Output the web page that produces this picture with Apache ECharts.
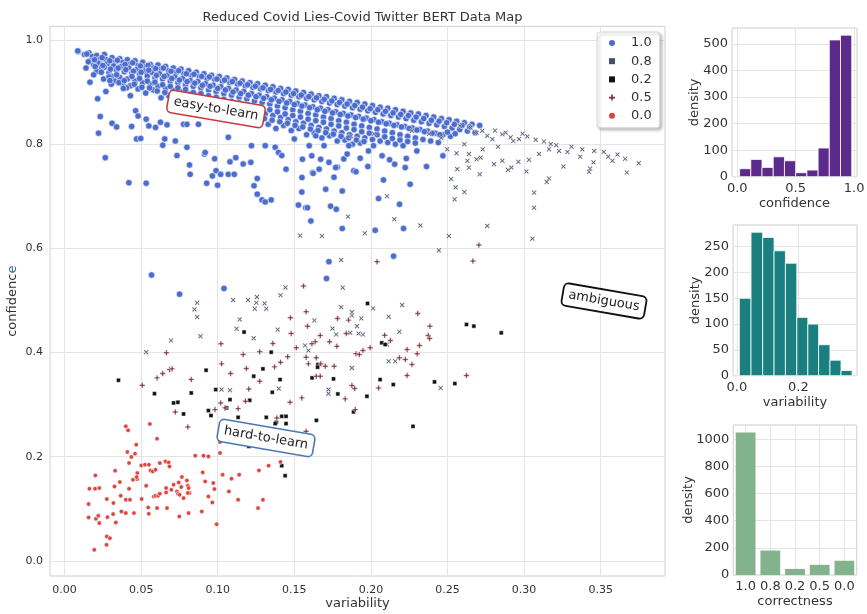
<!DOCTYPE html>
<html>
<head>
<meta charset="utf-8">
<script src="https://cdn.jsdelivr.net/npm/echarts@6/dist/echarts.min.js"></script>
<style>html,body{margin:0;padding:0;background:#fff;}#c{width:867px;height:614px;}</style>
</head>
<body>
<div id="c"></div>
<script>
// ---------- DATA ----------
const legendLabels = ['1.0', '0.8', '0.2', '0.5', '0.0'];

// tick values
const mainXTicks = [0, 0.05, 0.10, 0.15, 0.20, 0.25, 0.30, 0.35];
const mainYTicks = [0, 0.2, 0.4, 0.6, 0.8, 1.0];
const confXTicks = [0, 0.5, 1.0];
const varXTicks = [0, 0.2];

// correctness 1.0 : [variability, confidence]
const pts10 = [
[0.009,0.978],[0.013,0.972],[0.016,0.975],[0.018,0.968],[0.017,0.960],[0.019,0.952],
[0.021,0.970],[0.023,0.963],[0.022,0.955],[0.024,0.946],[0.021,0.940],
[0.026,0.972],[0.027,0.962],[0.028,0.955],[0.026,0.948],[0.029,0.937],
[0.031,0.966],[0.033,0.958],[0.032,0.950],[0.034,0.942],[0.031,0.930],[0.033,0.921],
[0.036,0.964],[0.038,0.957],[0.037,0.949],[0.039,0.939],[0.036,0.928],[0.038,0.915],
[0.041,0.962],[0.043,0.954],[0.042,0.946],[0.044,0.936],[0.041,0.925],[0.043,0.912],
[0.046,0.960],[0.048,0.951],[0.047,0.943],[0.049,0.934],[0.046,0.921],[0.048,0.906],
[0.051,0.957],[0.053,0.949],[0.052,0.940],[0.054,0.931],[0.051,0.918],[0.053,0.898],
[0.056,0.953],[0.058,0.946],[0.057,0.938],[0.059,0.927],[0.056,0.915],[0.058,0.904],
[0.061,0.952],[0.063,0.944],[0.062,0.935],[0.064,0.925],[0.061,0.911],[0.063,0.889],
[0.066,0.949],[0.068,0.941],[0.067,0.932],[0.069,0.921],[0.066,0.907],[0.068,0.893],
[0.071,0.946],[0.073,0.938],[0.072,0.929],[0.074,0.918],[0.071,0.903],[0.073,0.882],
[0.076,0.944],[0.078,0.935],[0.077,0.926],[0.079,0.914],[0.076,0.900],[0.078,0.872],
[0.081,0.941],[0.083,0.932],[0.082,0.922],[0.084,0.911],[0.081,0.896],[0.083,0.880],
[0.086,0.938],[0.088,0.930],[0.087,0.920],[0.089,0.908],[0.086,0.893],[0.088,0.868],
[0.091,0.935],[0.093,0.926],[0.092,0.916],[0.094,0.904],[0.091,0.889],[0.093,0.860],
[0.096,0.932],[0.098,0.924],[0.097,0.913],[0.099,0.901],[0.096,0.884],[0.098,0.870],
[0.101,0.930],[0.103,0.921],[0.102,0.910],[0.104,0.897],[0.101,0.880],[0.103,0.856],
[0.106,0.927],[0.108,0.918],[0.107,0.907],[0.109,0.894],[0.106,0.876],[0.108,0.862],
[0.111,0.924],[0.113,0.915],[0.112,0.904],[0.114,0.890],[0.111,0.873],[0.113,0.850],
[0.116,0.921],[0.118,0.912],[0.117,0.901],[0.119,0.887],[0.116,0.869],[0.118,0.855],
[0.121,0.918],[0.123,0.909],[0.122,0.897],[0.124,0.883],[0.121,0.866],[0.123,0.842],
[0.126,0.916],[0.128,0.906],[0.127,0.894],[0.129,0.880],[0.126,0.862],[0.128,0.848],
[0.131,0.913],[0.133,0.903],[0.132,0.891],[0.134,0.877],[0.131,0.858],[0.133,0.838],
[0.136,0.910],[0.138,0.900],[0.137,0.888],[0.139,0.873],[0.136,0.855],[0.138,0.830],
[0.141,0.907],[0.143,0.897],[0.142,0.885],[0.144,0.870],[0.141,0.851],[0.143,0.836],
[0.146,0.905],[0.148,0.894],[0.147,0.882],[0.149,0.866],[0.146,0.847],[0.148,0.826],
[0.151,0.902],[0.153,0.891],[0.152,0.878],[0.154,0.863],[0.151,0.843],[0.153,0.830],
[0.156,0.899],[0.158,0.888],[0.157,0.875],[0.159,0.859],[0.156,0.840],[0.158,0.818],
[0.161,0.896],[0.163,0.885],[0.162,0.872],[0.164,0.856],[0.161,0.836],[0.163,0.822],
[0.166,0.893],[0.168,0.882],[0.167,0.869],[0.169,0.852],[0.166,0.832],[0.168,0.812],
[0.171,0.891],[0.173,0.879],[0.172,0.866],[0.174,0.849],[0.171,0.829],[0.173,0.816],
[0.176,0.888],[0.178,0.876],[0.177,0.862],[0.179,0.845],[0.176,0.825],[0.178,0.806],
[0.181,0.885],[0.183,0.873],[0.182,0.859],[0.184,0.842],[0.181,0.822],[0.183,0.808],
[0.186,0.882],[0.188,0.870],[0.187,0.856],[0.189,0.838],[0.186,0.818],[0.188,0.800],
[0.191,0.880],[0.193,0.867],[0.192,0.853],[0.194,0.835],[0.191,0.815],[0.193,0.802],
[0.196,0.877],[0.198,0.864],[0.197,0.850],[0.199,0.832],[0.196,0.812],
[0.201,0.874],[0.203,0.861],[0.202,0.847],[0.204,0.829],[0.201,0.809],
[0.206,0.871],[0.208,0.858],[0.207,0.843],[0.209,0.825],[0.206,0.806],
[0.211,0.869],[0.213,0.855],[0.212,0.840],[0.214,0.822],[0.211,0.803],
[0.216,0.866],[0.218,0.852],[0.217,0.837],[0.219,0.818],[0.216,0.800],
[0.221,0.863],[0.223,0.849],[0.222,0.834],[0.224,0.815],[0.221,0.797],
[0.226,0.860],[0.228,0.846],[0.227,0.831],[0.229,0.812],
[0.231,0.858],[0.233,0.843],[0.232,0.828],[0.234,0.809],
[0.236,0.855],[0.238,0.840],[0.237,0.825],[0.239,0.806],
[0.241,0.852],[0.243,0.837],[0.242,0.821],[0.244,0.803],
[0.246,0.849],[0.248,0.834],[0.247,0.818],
[0.251,0.847],[0.253,0.831],[0.252,0.815],
[0.256,0.844],[0.258,0.828],[0.261,0.841],[0.263,0.825],[0.266,0.838],[0.268,0.822],[0.271,0.836],
[0.0145,0.973],[0.0155,0.958],[0.014,0.946],[0.0195,0.962],[0.020,0.949],[0.019,0.933],
[0.0245,0.966],[0.025,0.951],[0.024,0.938],[0.0255,0.925],[0.0295,0.960],[0.030,0.944],[0.029,0.929],[0.0305,0.915],
[0.0345,0.961],[0.035,0.946],[0.034,0.933],[0.0355,0.918],[0.0395,0.953],[0.040,0.943],[0.039,0.922],[0.0405,0.908],
[0.0445,0.956],[0.045,0.940],[0.044,0.930],[0.0455,0.915],[0.0495,0.950],[0.050,0.938],[0.049,0.926],[0.0505,0.909],
[0.0545,0.951],[0.055,0.942],[0.054,0.921],[0.0555,0.908],[0.0595,0.945],[0.060,0.932],[0.059,0.919],[0.0605,0.902],
[0.0645,0.946],[0.065,0.930],[0.064,0.914],[0.0655,0.899],[0.0695,0.940],[0.070,0.926],[0.069,0.911],[0.0705,0.896],
[0.0745,0.941],[0.075,0.923],[0.074,0.908],[0.0755,0.892],[0.0795,0.935],[0.080,0.920],[0.079,0.905],[0.0805,0.888],
[0.0845,0.934],[0.085,0.917],[0.084,0.899],[0.0855,0.884],[0.0895,0.930],[0.090,0.913],[0.089,0.897],[0.0905,0.880],
[0.0945,0.929],[0.095,0.911],[0.094,0.893],[0.0955,0.876],[0.0995,0.925],[0.100,0.907],[0.099,0.890],[0.1005,0.872],
[0.1045,0.923],[0.105,0.904],[0.104,0.886],[0.1055,0.868],[0.1095,0.920],[0.110,0.900],[0.109,0.882],[0.1105,0.866],
[0.1145,0.917],[0.115,0.897],[0.114,0.879],[0.1155,0.861],[0.1195,0.914],[0.120,0.894],[0.119,0.876],[0.1205,0.857],
[0.1245,0.911],[0.125,0.891],[0.124,0.872],[0.1255,0.853],[0.1295,0.908],[0.130,0.888],[0.129,0.869],[0.1305,0.849],
[0.1345,0.905],[0.135,0.885],[0.134,0.866],[0.1355,0.846],[0.1395,0.903],[0.140,0.882],[0.139,0.862],[0.1405,0.843],
[0.1445,0.900],[0.145,0.879],[0.144,0.858],[0.1455,0.840],[0.1495,0.897],[0.150,0.876],[0.149,0.855],[0.1505,0.836],
[0.1545,0.894],[0.155,0.873],[0.154,0.852],[0.1555,0.833],[0.1595,0.891],[0.160,0.870],[0.159,0.848],[0.1605,0.829],
[0.1645,0.889],[0.165,0.866],[0.164,0.845],[0.1655,0.826],[0.1695,0.886],[0.170,0.863],[0.169,0.842],[0.1705,0.822],
[0.1745,0.883],[0.175,0.860],[0.174,0.838],[0.1755,0.819],[0.1795,0.880],[0.180,0.857],[0.179,0.835],[0.1805,0.815],
[0.1845,0.877],[0.185,0.854],[0.184,0.831],[0.1855,0.812],[0.1895,0.874],[0.190,0.851],[0.189,0.828],[0.1905,0.808],
[0.1945,0.871],[0.195,0.848],[0.194,0.824],[0.1955,0.805],[0.1995,0.868],[0.200,0.845],[0.199,0.821],
[0.2045,0.866],[0.205,0.842],[0.204,0.818],[0.2095,0.863],[0.210,0.839],[0.209,0.814],
[0.2145,0.860],[0.215,0.836],[0.214,0.811],[0.2195,0.857],[0.220,0.833],[0.219,0.808],
[0.2245,0.855],[0.225,0.830],[0.224,0.805],[0.2295,0.852],[0.230,0.827],[0.229,0.802],
[0.2345,0.849],[0.235,0.824],[0.2395,0.846],[0.240,0.821],[0.2445,0.844],[0.245,0.818],
[0.2495,0.841],[0.250,0.823],[0.2545,0.838],[0.255,0.820],[0.2595,0.836],[0.2645,0.833],
[0.0086,0.979],[0.0166,0.919],[0.0216,0.887],[0.0233,0.853],[0.0222,0.821],[0.0266,0.774],[0.042,0.726],[0.0533,0.725],
[0.031,0.840],[0.034,0.833],[0.027,0.901],[0.0296,0.922],[0.047,0.810],[0.0497,0.811],[0.0438,0.834],[0.0464,0.864],
[0.048,0.854],[0.043,0.893],[0.0384,0.907],[0.0533,0.848],[0.055,0.835],[0.0594,0.832],[0.0626,0.842],[0.0654,0.810],
[0.0641,0.798],[0.0734,0.778],[0.0669,0.837],[0.0723,0.806],[0.0799,0.794],[0.0816,0.760],[0.082,0.742],[0.0777,0.838],
[0.0799,0.838],[0.0874,0.838],[0.0913,0.781],[0.0918,0.784],[0.098,0.772],[0.0989,0.749],[0.0965,0.739],[0.0928,0.725],
[0.0999,0.721],[0.1019,0.742],[0.1069,0.742],[0.1108,0.742],[0.108,0.766],[0.1118,0.774],[0.1166,0.762],[0.1216,0.765],
[0.1069,0.813],[0.122,0.797],[0.1258,0.734],[0.1237,0.720],[0.1258,0.704],[0.1289,0.693],[0.131,0.689],[0.1349,0.693],
[0.131,0.797],[0.1375,0.794],[0.1397,0.784],[0.1418,0.778],[0.1446,0.752],[0.1527,0.683],[0.1575,0.678],[0.1549,0.708],
[0.150,0.810],[0.1597,0.797],[0.164,0.816],[0.1694,0.797],[0.1618,0.7455],[0.1705,0.7135],[0.1737,0.681],[0.1774,0.675],
[0.1813,0.710],[0.1759,0.7365],[0.178,0.7558],[0.1823,0.7716],[0.1845,0.781],[0.1856,0.797],[0.1888,0.7487],
[0.155,0.736],[0.1586,0.678],[0.1608,0.6525],[0.1813,0.638],[0.2028,0.6346],[0.205,0.6955],[0.2082,0.7313],[0.2187,0.6846],
[0.2213,0.638],[0.2148,0.585],[0.2256,0.723],[0.2363,0.757],[0.2224,0.755],[0.2155,0.7615],[0.2122,0.770],[0.2073,0.7775],
[0.198,0.757],[0.193,0.773],[0.1903,0.747],[0.1662,0.752],[0.1623,0.744],[0.1614,0.7775],[0.1553,0.771],[0.1672,0.771],
[0.1726,0.765],[0.177,0.755],[0.1984,0.787],[0.2017,0.797],[0.2231,0.7725],[0.2300,0.787],[0.2470,0.7775],
[0.0568,0.5487],[0.0751,0.512],[0.1041,0.523],[0.1726,0.5744],[0.171,0.542]
];

// correctness 0.8
const pts08 = [
[0.2268,0.8256],[0.2498,0.790],[0.2559,0.7827],[0.2640,0.781],[0.2630,0.768],[0.2640,0.755],[0.2690,0.771],[0.2716,0.774],
[0.2711,0.742],[0.2564,0.752],[0.2524,0.733],[0.2553,0.717],[0.2547,0.694],[0.2611,0.708],[0.2804,0.7615],[0.2858,0.768],
[0.2895,0.7506],[0.2917,0.755],[0.2963,0.766],[0.3015,0.7475],[0.3032,0.770],[0.2727,0.8256],[0.2760,0.816],[0.2793,0.8096],
[0.2858,0.819],[0.2912,0.813],[0.2967,0.8096],[0.3021,0.8148],[0.3076,0.8083],[0.3174,0.800],[0.3283,0.785],[0.3366,0.776],
[0.3458,0.787],[0.3549,0.776],[0.3577,0.768],[0.3748,0.7635],[0.3671,0.7455],[0.3453,0.765],[0.3431,0.753],[0.3424,0.747],
[0.3257,0.757],[0.3098,0.781],[0.3163,0.790],[0.3229,0.787],[0.3065,0.707],[0.3065,0.678],[0.3148,0.7275],[0.3163,0.734],
[0.3054,0.6186],[0.2760,0.643],[0.2509,0.6236],[0.2444,0.596],[0.2323,0.644],[0.2153,0.656],[0.2105,0.700],[0.1960,0.629],
[0.1850,0.661],[0.1680,0.6236],
[0.258,0.835],[0.265,0.832],[0.269,0.822],[0.281,0.826],[0.288,0.822],[0.293,0.806],[0.299,0.820],[0.313,0.805],
[0.321,0.798],[0.331,0.795],[0.338,0.790],[0.352,0.785],[0.361,0.780],[0.366,0.772],[0.246,0.812],[0.238,0.820],
[0.261,0.800],[0.273,0.790],[0.283,0.795],[0.202,0.820],[0.187,0.815],
[0.1538,0.6244],[0.1806,0.5775],[0.1816,0.5244],[0.1442,0.525],[0.141,0.510],[0.1256,0.5064],[0.1198,0.5006],[0.1252,0.4955],
[0.1242,0.484],[0.1306,0.4942],[0.1317,0.484],[0.1101,0.5006],[0.1144,0.4635],[0.1123,0.4455],[0.1235,0.4275],[0.1392,0.444],
[0.0866,0.4955],[0.0848,0.4827],[0.0866,0.468],[0.0887,0.4313],[0.0695,0.423],[0.0533,0.4006],[0.1025,0.3288],[0.108,0.3275],
[0.1570,0.4135],[0.1592,0.4038],[0.1630,0.4615],[0.1749,0.446],[0.1773,0.4346],[0.1806,0.487],[0.1876,0.4775],[0.1876,0.471],
[0.1937,0.4654],[0.1909,0.4506],[0.1865,0.4378],[0.1920,0.4365],[0.1948,0.4346],[0.1876,0.3705],[0.2014,0.4846],[0.2116,0.4686],
[0.2204,0.491],[0.2186,0.4398],[0.2105,0.4154],[0.2116,0.3833],[0.2159,0.3833],[0.1723,0.3288],[0.1723,0.321],[0.2455,0.332],
[0.1399,0.3308]
];

// correctness 0.2
const pts02 = [
[0.0352,0.3468],[0.0587,0.321],[0.0712,0.3032],[0.074,0.3045],[0.0777,0.282],[0.0827,0.3224],[0.0924,0.366],[0.0939,0.2885],
[0.0956,0.279],[0.0987,0.3288],[0.108,0.3096],[0.1058,0.2937],[0.1133,0.2756],[0.1172,0.4393],[0.1209,0.3083],[0.1235,0.3545],
[0.1295,0.3686],[0.1349,0.4006],[0.1356,0.3237],[0.1407,0.348],[0.1317,0.2756],[0.1382,0.266],[0.1418,0.2775],[0.1446,0.2775],
[0.1616,0.3513],[0.1654,0.377],[0.1652,0.3718],[0.1756,0.3494],[0.1784,0.3205],[0.1887,0.286],[0.1974,0.316],[0.1978,0.4942],
[0.2071,0.4186],[0.2093,0.4154],[0.2060,0.348],[0.2146,0.3385],[0.2415,0.3436],[0.2548,0.3404],[0.2275,0.2583],[0.1644,0.2698],
[0.2624,0.4538],[0.2672,0.4506],[0.2851,0.4378],[0.1375,0.2635],[0.1446,0.2635],[0.1203,0.2198],[0.1418,0.1827],[0.144,0.1635]
];

// correctness 0.5
const pts05 = [
[0.1560,0.5276],[0.2040,0.5744],[0.1577,0.4782],[0.1586,0.4506],[0.1479,0.4365],[0.1475,0.4667],[0.1513,0.409],[0.1457,0.3917],
[0.141,0.3813],[0.1371,0.3724],[0.136,0.4173],[0.1274,0.4013],[0.1187,0.3692],[0.1203,0.3301],[0.1274,0.3448],[0.1181,0.3064],
[0.1084,0.3596],[0.1025,0.3782],[0.1021,0.4167],[0.1166,0.396],[0.0827,0.348],[0.0686,0.3673],[0.0702,0.3686],[0.0641,0.3596],
[0.0604,0.3513],[0.0665,0.3994],[0.0507,0.3372],[0.0723,0.286],[0.0805,0.2571],[0.1019,0.3032],[0.0982,0.2904],[0.1047,0.2937],
[0.1133,0.2923],[0.1386,0.2744],[0.1472,0.3045],[0.1549,0.3129],[0.1577,0.391],[0.1592,0.3782],[0.1643,0.3898],[0.1673,0.3782],
[0.1702,0.3737],[0.176,0.3737],[0.173,0.4205],[0.1778,0.412],[0.1636,0.4205],[0.1669,0.4327],[0.1615,0.4167],[0.1643,0.3545],
[0.1669,0.3545],[0.1782,0.4654],[0.1854,0.4622],[0.1839,0.4365],[0.1948,0.4038],[0.1995,0.409],[0.1903,0.3975],[0.1924,0.3962],
[0.1876,0.3365],[0.1894,0.3308],[0.1832,0.311],[0.1898,0.2904],[0.209,0.4333],[0.2127,0.423],[0.2186,0.3898],[0.2225,0.3865],
[0.2236,0.4058],[0.2268,0.377],[0.2236,0.3558],[0.205,0.332],[0.2306,0.475],[0.2385,0.4506],[0.2374,0.4327],[0.2383,0.427],
[0.2317,0.4135],[0.2302,0.3975],[0.2624,0.3558],[0.2705,0.6064],[0.2666,0.5756],[0.1577,0.2487]
];

// correctness 0.0
const pts00 = [
[0.0400,0.2583],[0.0415,0.2506],[0.0557,0.2628],[0.0604,0.2346],[0.0468,0.2231],[0.041,0.209],[0.046,0.2058],[0.0436,0.1994],
[0.0421,0.1878],[0.0475,0.1686],[0.0447,0.1558],[0.0475,0.1571],[0.0471,0.161],[0.0501,0.1833],[0.0525,0.1846],[0.0551,0.1846],
[0.0561,0.1737],[0.0576,0.1718],[0.0594,0.175],[0.0622,0.1878],[0.0659,0.191],[0.068,0.189],[0.0685,0.1814],[0.033,0.1731],
[0.0201,0.164],[0.0361,0.1513],[0.0421,0.1385],[0.0162,0.1385],[0.0199,0.1385],[0.0227,0.1398],[0.0326,0.1429],[0.0276,0.1186],
[0.0367,0.125],[0.04,0.1173],[0.0427,0.1173],[0.0157,0.109],[0.0319,0.111],[0.0371,0.0948],[0.04,0.0917],[0.0453,0.0917],
[0.0157,0.0833],[0.0205,0.0808],[0.022,0.0865],[0.0227,0.0725],[0.028,0.084],[0.0317,0.0898],[0.0335,0.0737],[0.0276,0.0468],
[0.0296,0.0436],[0.0274,0.0308],[0.0194,0.0212],[0.0503,0.1186],[0.0533,0.1442],[0.0546,0.1025],[0.055,0.0904],[0.0604,0.1013],
[0.0669,0.1013],[0.0583,0.1237],[0.0594,0.125],[0.0611,0.125],[0.0622,0.1288],[0.0663,0.1398],[0.0663,0.1314],[0.0697,0.1365],
[0.0712,0.1462],[0.0734,0.1333],[0.0745,0.1506],[0.0741,0.1288],[0.0751,0.1269],[0.0777,0.1205],[0.0762,0.1417],[0.0799,0.1545],
[0.0805,0.1442],[0.081,0.1398],[0.0816,0.1302],[0.0805,0.1302],[0.0766,0.161],[0.0749,0.0852],[0.081,0.0917],[0.0853,0.2019],
[0.0907,0.2019],[0.0939,0.2006],[0.0902,0.1699],[0.0918,0.1526],[0.0971,0.1494],[0.0978,0.1378],[0.0939,0.1237],[0.0965,0.1121],
[0.0896,0.0948],[0.0993,0.0705],[0.1015,0.2071],[0.1032,0.1654],[0.1073,0.1333],[0.109,0.1577],[0.114,0.1654],[0.1133,0.1173],
[0.1263,0.1013],[0.1295,0.1173],[0.1269,0.1737],[0.1332,0.1827],[0.141,0.1898],[0.1015,0.2283]
];

// histogram: confidence
const confBinEdges = [0.02,0.116,0.212,0.308,0.404,0.50,0.596,0.692,0.788,0.884,0.98];
const confCounts = [30,65,35,75,60,15,25,108,515,533];
// histogram: variability
const varBinEdges = [0.008,0.046,0.084,0.121,0.158,0.195,0.231,0.266,0.303,0.339,0.375];
const varCounts = [150,278,268,242,218,113,100,60,30,10];
// count plot: correctness
const corrCategories = ['1.0','0.8','0.2','0.5','0.0'];
const corrCounts = [1050,180,45,75,105];

// ---------- CHART ----------
const FONT = 'DejaVu Sans';
const TXT = '#333333';
const GRIDC = '#e4e4e4';
const BORDER = '#cfcfcf';
const X_PATH = 'path://M0,1 L1,0 L3,2 L5,0 L6,1 L4,3 L6,5 L5,6 L3,4 L1,6 L0,5 L2,3 Z';
const PLUS_PATH = 'path://M2.2,0 H3.8 V2.2 H6 V3.8 H3.8 V6 H2.2 V3.8 H0 V2.2 H2.2 Z';

function binData(edges, counts) {
  return counts.map((c, i) => [edges[i], edges[i + 1], c]);
}
function histRender(color) {
  return function (params, api) {
    const p0 = api.coord([api.value(0), api.value(2)]);
    const p1 = api.coord([api.value(1), 0]);
    return {
      type: 'rect',
      shape: { x: p0[0], y: p0[1], width: p1[0] - p0[0], height: p1[1] - p0[1] },
      style: { fill: color, stroke: '#ffffff', lineWidth: 0.8 }
    };
  };
}
const lbl = (size, extra) => Object.assign({ color: TXT, fontSize: size, fontFamily: FONT }, extra || {});
const plain = v => String(v);
const gridBase = { show: true, borderColor: BORDER, borderWidth: 1, containLabel: false, outerBoundsMode: 'none' };

const chart = echarts.init(document.getElementById('c'), null, { renderer: 'canvas' });
const option = {
  animation: false,
  backgroundColor: '#ffffff',
  title: {
    text: 'Reduced Covid Lies-Covid Twitter BERT Data Map',
    left: 357.5, textAlign: 'center', top: 6,
    textStyle: { fontSize: 13, fontWeight: 'normal', color: TXT, fontFamily: FONT }
  },
  legend: {
    orient: 'vertical', left: 597, top: 32,
    padding: [4, 8, 5, 12], itemWidth: 6, itemHeight: 6, itemGap: 4.2,
    backgroundColor: '#ffffff', borderColor: '#d6d6d6', borderWidth: 1, borderRadius: 3,
    shadowBlur: 3, shadowOffsetX: 2, shadowOffsetY: 2, shadowColor: 'rgba(0,0,0,0.25)',
    itemStyle: { borderWidth: 0 },
    textStyle: { color: TXT, fontSize: 13, fontFamily: FONT, lineHeight: 14, padding: [0, 0, 0, 11] },
    data: [
      { name: legendLabels[0], icon: 'circle' },
      { name: legendLabels[1], icon: 'rect' },
      { name: legendLabels[2], icon: 'rect' },
      { name: legendLabels[3], icon: PLUS_PATH },
      { name: legendLabels[4], icon: 'circle' }
    ]
  },
  grid: [
    Object.assign({ left: 50, top: 26.4, width: 615, height: 549.6 }, gridBase),
    Object.assign({ left: 732, top: 28, width: 125, height: 148.7 }, gridBase),
    Object.assign({ left: 733, top: 225, width: 124, height: 150.7 }, gridBase),
    Object.assign({ left: 733.3, top: 425, width: 123.4, height: 150 }, gridBase)
  ],
  xAxis: [
    { gridIndex: 0, type: 'value', min: -0.0095, max: 0.392,
      axisLine: { show: false }, axisTick: { show: false, customValues: mainXTicks },
      splitLine: { lineStyle: { color: GRIDC } },
      axisLabel: lbl(11, { margin: 9, customValues: mainXTicks, formatter: v => v.toFixed(2) }),
      name: 'variability', nameLocation: 'middle', nameGap: 21, nameMoveOverlap: false, nameTextStyle: lbl(13) },
    { gridIndex: 1, type: 'value', min: -0.045, max: 1.025,
      axisLine: { show: false }, axisTick: { show: false, customValues: confXTicks },
      splitLine: { lineStyle: { color: GRIDC } },
      axisLabel: lbl(13, { margin: 5, customValues: confXTicks, formatter: v => v.toFixed(1) }),
      name: 'confidence', nameLocation: 'middle', nameGap: 20, nameMoveOverlap: false, nameTextStyle: lbl(13) },
    { gridIndex: 2, type: 'value', min: -0.0127, max: 0.391,
      axisLine: { show: false }, axisTick: { show: false, customValues: varXTicks },
      splitLine: { lineStyle: { color: GRIDC } },
      axisLabel: lbl(13, { margin: 5, customValues: varXTicks, formatter: v => v.toFixed(1) }),
      name: 'variability', nameLocation: 'middle', nameGap: 20, nameMoveOverlap: false, nameTextStyle: lbl(13) },
    { gridIndex: 3, type: 'category', data: corrCategories,
      axisLine: { show: false }, axisTick: { show: false, alignWithLabel: true },
      splitLine: { show: true, interval: 0, alignWithLabel: true, lineStyle: { color: GRIDC } },
      axisLabel: lbl(13, { margin: 5, interval: 0 }),
      name: 'correctness', nameLocation: 'middle', nameGap: 20, nameMoveOverlap: false, nameTextStyle: lbl(13) }
  ],
  yAxis: [
    { gridIndex: 0, type: 'value', min: -0.029, max: 1.026,
      axisLine: { show: false }, axisTick: { show: false, customValues: mainYTicks },
      splitLine: { lineStyle: { color: GRIDC } },
      axisLabel: lbl(11, { margin: 7, customValues: mainYTicks, formatter: v => v.toFixed(1) }),
      name: '{a|confidenc}{b|e}', nameLocation: 'middle', nameGap: 31, nameMoveOverlap: false,
      nameTextStyle: lbl(13, { rich: { a: lbl(13), b: lbl(13, { color: '#2c6b7d' }) } }) },
    { gridIndex: 1, type: 'value', min: 0, max: 560, interval: 100,
      axisLine: { show: false }, axisTick: { show: false },
      splitLine: { lineStyle: { color: GRIDC } },
      axisLabel: lbl(13, { margin: 4, showMaxLabel: false, formatter: plain }),
      name: 'density', nameLocation: 'middle', nameGap: 31, nameMoveOverlap: false, nameTextStyle: lbl(13) },
    { gridIndex: 2, type: 'value', min: 0, max: 292, interval: 50,
      axisLine: { show: false }, axisTick: { show: false },
      splitLine: { lineStyle: { color: GRIDC } },
      axisLabel: lbl(13, { margin: 4, showMaxLabel: false, formatter: plain }),
      name: 'density', nameLocation: 'middle', nameGap: 31, nameMoveOverlap: false, nameTextStyle: lbl(13) },
    { gridIndex: 3, type: 'value', min: 0, max: 1105, interval: 200,
      axisLine: { show: false }, axisTick: { show: false },
      splitLine: { lineStyle: { color: GRIDC } },
      axisLabel: lbl(13, { margin: 4, showMaxLabel: false, formatter: plain }),
      name: 'density', nameLocation: 'middle', nameGap: 38, nameMoveOverlap: false, nameTextStyle: lbl(13) }
  ],
  series: [
    { name: legendLabels[0], type: 'scatter', xAxisIndex: 0, yAxisIndex: 0, data: pts10,
      symbol: 'circle', symbolSize: 6.5, z: 2,
      itemStyle: { color: '#4c6dcf', borderColor: '#ffffff', borderWidth: 0.6, opacity: 1 } },
    { name: legendLabels[1], type: 'scatter', xAxisIndex: 0, yAxisIndex: 0, data: pts08,
      symbol: X_PATH, symbolSize: 5, z: 3,
      itemStyle: { color: '#46506a', borderColor: '#ffffff', borderWidth: 0.5, opacity: 1 } },
    { name: legendLabels[2], type: 'scatter', xAxisIndex: 0, yAxisIndex: 0, data: pts02,
      symbol: 'rect', symbolSize: 4, z: 3,
      itemStyle: { color: '#111111', borderColor: '#ffffff', borderWidth: 0.4, opacity: 1 } },
    { name: legendLabels[3], type: 'scatter', xAxisIndex: 0, yAxisIndex: 0, data: pts05,
      symbol: PLUS_PATH, symbolSize: 5.5, z: 3,
      itemStyle: { color: '#7a2f38', borderColor: '#ffffff', borderWidth: 0.4, opacity: 1 } },
    { name: legendLabels[4], type: 'scatter', xAxisIndex: 0, yAxisIndex: 0, data: pts00,
      symbol: 'circle', symbolSize: 4.5, z: 3,
      itemStyle: { color: '#d9453f', borderColor: '#ffffff', borderWidth: 0.6, opacity: 1 } },
    { type: 'custom', xAxisIndex: 1, yAxisIndex: 1, data: binData(confBinEdges, confCounts),
      encode: { x: [0, 1], y: 2 }, renderItem: histRender('#5c2a8a') },
    { type: 'custom', xAxisIndex: 2, yAxisIndex: 2, data: binData(varBinEdges, varCounts),
      encode: { x: [0, 1], y: 2 }, renderItem: histRender('#1b7f80') },
    { type: 'bar', xAxisIndex: 3, yAxisIndex: 3, data: corrCounts, barCategoryGap: '20%',
      itemStyle: { color: '#82b38c' } }
  ],
  graphic: [
    { type: 'text', x: 216, y: 109, rotation: -0.17, z: 100,
      style: { text: 'easy-to-learn', font: '13px "DejaVu Sans"', fill: '#222', align: 'center', verticalAlign: 'middle',
        backgroundColor: '#ffffff', borderColor: '#c43c3f', borderWidth: 1.6, borderRadius: 4, padding: [4, 5] } },
    { type: 'text', x: 604, y: 301, rotation: -0.17, z: 100,
      style: { text: 'ambiguous', font: '13px "DejaVu Sans"', fill: '#222', align: 'center', verticalAlign: 'middle',
        backgroundColor: '#ffffff', borderColor: '#111111', borderWidth: 1.8, borderRadius: 4, padding: [4, 5] } },
    { type: 'text', x: 266, y: 438, rotation: -0.17, z: 100,
      style: { text: 'hard-to-learn', font: '13px "DejaVu Sans"', fill: '#222', align: 'center', verticalAlign: 'middle',
        backgroundColor: '#ffffff', borderColor: '#4a78b5', borderWidth: 1.6, borderRadius: 4, padding: [4, 5] } }
  ]
};
chart.setOption(option);
</script>
</body>
</html>
